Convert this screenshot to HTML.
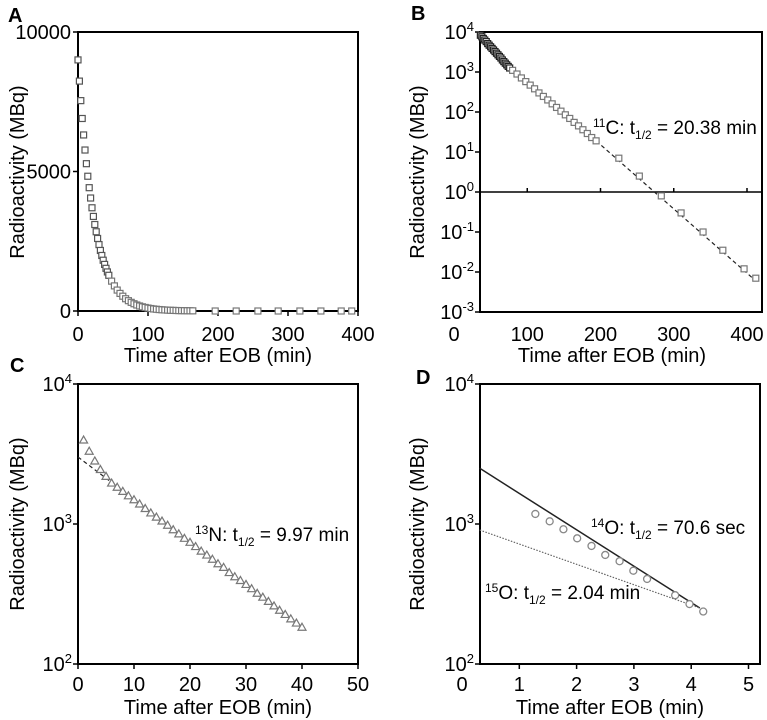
<!DOCTYPE html>
<html><head><meta charset="utf-8"><style>
html,body{margin:0;padding:0;background:#fff;}
svg{display:block;font-family:"Liberation Sans",Arial,sans-serif;}
</style></head><body>
<svg id="fig" width="767" height="720" viewBox="0 0 767 720">
<g>
<text x="8" y="22" font-size="20" font-weight="bold">A</text>
<text transform="translate(24,172) rotate(-90)" text-anchor="middle" font-size="20">Radioactivity (MBq)</text>
<text x="218" y="362" text-anchor="middle" font-size="20">Time after EOB (min)</text>
<g id="ga"></g></g>
<g>
<text x="411" y="20" font-size="20" font-weight="bold">B</text>
<text transform="translate(424,172) rotate(-90)" text-anchor="middle" font-size="20">Radioactivity (MBq)</text>
<text x="612" y="362" text-anchor="middle" font-size="20">Time after EOB (min)</text>
<text x="593" y="134" font-size="19"><tspan font-size="12" dy="-7">11</tspan><tspan dy="7">C: t</tspan><tspan font-size="12" dy="5">1/2</tspan><tspan dy="-5"> = 20.38 min</tspan></text>
<g id="gb"></g></g>
<g>
<text x="10" y="372" font-size="20" font-weight="bold">C</text>
<text transform="translate(24,524) rotate(-90)" text-anchor="middle" font-size="20">Radioactivity (MBq)</text>
<text x="218" y="714" text-anchor="middle" font-size="20">Time after EOB (min)</text>
<text x="195" y="541" font-size="19"><tspan font-size="12" dy="-7">13</tspan><tspan dy="7">N: t</tspan><tspan font-size="12" dy="5">1/2</tspan><tspan dy="-5"> = 9.97 min</tspan></text>
<g id="gc"></g></g>
<g>
<text x="416" y="384" font-size="20" font-weight="bold">D</text>
<text transform="translate(424,524) rotate(-90)" text-anchor="middle" font-size="20">Radioactivity (MBq)</text>
<text x="610" y="714" text-anchor="middle" font-size="20">Time after EOB (min)</text>
<text x="591" y="534" font-size="19"><tspan font-size="12" dy="-7">14</tspan><tspan dy="7">O: t</tspan><tspan font-size="12" dy="5">1/2</tspan><tspan dy="-5"> = 70.6 sec</tspan></text>
<text x="485" y="599" font-size="19"><tspan font-size="12" dy="-7">15</tspan><tspan dy="7">O: t</tspan><tspan font-size="12" dy="5">1/2</tspan><tspan dy="-5"> = 2.04 min</tspan></text>
<g id="gd"></g></g>
</svg>
<script>
// Panel A data
const aTime=[0,2,4,6,8,10,12,14,16,18,20,22,24,26,28,30,32,34,36,38,40,42,44,48,52,56,60,64,68,72,76,80,84,88,92,96,100,104,108,112,116,120,124,128,132,136,140,144,148,152,156,160,164,196,226,257,286,317,347,376,391];
const aValue=[9000,8240,7540,6900,6310,5770,5280,4830,4420,4050,3700,3390,3100,2840,2600,2380,2170,1990,1820,1670,1530,1400,1280,1070,900,750,630,530,440,370,310,260,215,180,150,127,106,89,74,62,52,44,37,31,26,22,18,15,13,11,9,8,6,0,0,0,0,0,0,0,0];
const aXTicks=[0,100,200,300,400];
const aYTicks=[0,5000,10000];
// Panel B data
const bTime=[36,38,40,42,44,46,48,50,52,54,56,58,60,62,64,66,68,70,72,74,76,80,86,92,98,104,110,116,122,128,134,140,146,152,158,164,170,176,182,188,194,225,253,283,310,340,367,396,412];
const bValue=[8300,7600,6900,6300,5750,5130,4680,4270,3890,3550,3240,2950,2690,2450,2240,2000,1820,1660,1510,1380,1260,1100,890,710,575,470,380,300,245,200,160,130,105,85,69,55,45,36,29,23,19,7,2.5,0.8,0.3,0.1,0.035,0.012,0.007];
const bFitTime=[194,412];
const bFitValue=[19,0.006];
const bXTicks=[0,100,200,300,400];
const bYExp=[4,3,2,1,0,-1,-2,-3];
// Panel C data
const cTime=[1,2,3,4,5,6,7,8,9,10,11,12,13,14,15,16,17,18,19,20,21,22,23,24,25,26,27,28,29,30,31,32,33,34,35,36,37,38,39,40];
const cValue=[3980,3310,2820,2450,2190,1960,1830,1710,1590,1490,1390,1290,1200,1120,1050,980,910,850,790,740,690,640,600,560,520,490,450,420,395,370,345,320,300,280,260,242,226,210,196,183];
const cFitTime=[0,6];
const cFitValue=[3010,1980];
const cXTicks=[0,10,20,30,40,50];
const cYExp=[2,3,4];
// Panel D data
const dTime=[1.28,1.53,1.77,2.01,2.26,2.50,2.75,2.99,3.23,3.72,3.97,4.21];
const dValue=[1180,1045,917,790,697,601,542,464,405,310,268,237];
const d14Time=[0.31,4.15];
const d14Value=[2500,251];
const d15Time=[0.31,4.15];
const d15Value=[906,251];
const dXTicks=[0,1,2,3,4,5];
const dYExp=[2,3,4];

const NS='http://www.w3.org/2000/svg';
function mk(parent,tag,attrs){const e=document.createElementNS(NS,tag);for(const k in attrs)e.setAttribute(k,attrs[k]);parent.appendChild(e);return e;}
function frame(g,l,t,r,b){
  const f=mk(g,'rect',{x:l,y:t,width:r-l,height:b-t,fill:'none',stroke:'#000','stroke-width':2});
  
  
}
function xTickLabels(g,ticks,sx,yAxis,yLab,prefix){
  ticks.forEach(v=>{
    const x=sx(v);
    const t=mk(g,'line',{x1:x,x2:x,y1:yAxis,y2:yAxis+5,stroke:'#000','stroke-width':1.5});
    
    
    const l=mk(g,'text',{x:x,y:yLab,'text-anchor':'middle','font-size':20});
    l.textContent=String(v);
    
    
  });
}
function yExpLabels(g,exps,sy,xAxis,prefix){
  exps.forEach(e=>{
    const y=sy(Math.pow(10,e));
    const t=mk(g,'line',{x1:xAxis-5,x2:xAxis,y1:y,y2:y,stroke:'#000','stroke-width':1.5});
    
    
    const l=mk(g,'text',{x:xAxis-6,y:y+7,'text-anchor':'end','font-size':20});
    l.innerHTML='10<tspan font-size="13" dy="-8">'+e+'</tspan>';
    
    
  });
}
function square(g,x,y,stroke,name){
  const s=mk(g,'rect',{x:x-3,y:y-3,width:6,height:6,fill:'#fff',stroke:stroke,'stroke-width':1.2});
  
  
}
// Panel A
(function(){
  const g=document.getElementById('ga');
  const sx=v=>78+v*0.70, sy=v=>311-v*0.0279;
  frame(g,78,32,358,311);
  xTickLabels(g,aXTicks,sx,311,341,'panel-a');
  aYTicks.forEach(v=>{
    const y=sy(v);
    const t=mk(g,'line',{x1:73,x2:78,y1:y,y2:y,stroke:'#000','stroke-width':1.5});
    
    
    const l=mk(g,'text',{x:71,y:y+7,'text-anchor':'end','font-size':20});
    l.textContent=String(v);
    
    
  });
  aTime.forEach((t,i)=>square(g,sx(t),sy(aValue[i]),t<45?'#555':'#777','panel-a-point'));
})();
// Panel B
(function(){
  const g=document.getElementById('gb');
  const sx=v=>454+v*0.7325, sy=v=>32+(4-Math.log10(v))*40;
  frame(g,480,32,762,312);
  const h=mk(g,'line',{x1:480,x2:762,y1:sy(1),y2:sy(1),stroke:'#000','stroke-width':1.5});
  
  
  bXTicks.forEach(v=>{if(v>0){const x=sx(v);const t=mk(g,'line',{x1:x,x2:x,y1:sy(1)-4,y2:sy(1),stroke:'#000','stroke-width':1.5});
    
    }});
  bXTicks.forEach(v=>{const x=sx(v);const l=mk(g,'text',{x:x,y:341,'text-anchor':'middle','font-size':20});l.textContent=String(v);
    
    });
  yExpLabels(g,bYExp,sy,480,'panel-b');
  const fl=mk(g,'line',{x1:sx(bFitTime[0]),y1:sy(bFitValue[0]),x2:sx(bFitTime[1]),y2:sy(bFitValue[1]),stroke:'#222','stroke-width':1.2,'stroke-dasharray':'4,3'});
  
  
  bTime.forEach((t,i)=>square(g,sx(t),sy(bValue[i]),t<=76?'#222':'#777','panel-b-point'));
})();
// Panel C
(function(){
  const g=document.getElementById('gc');
  const sx=v=>78+v*5.6, sy=v=>384+(4-Math.log10(v))*140;
  frame(g,78,384,358,664);
  xTickLabels(g,cXTicks,sx,664,691,'panel-c');
  yExpLabels(g,cYExp,sy,78,'panel-c');
  const fl=mk(g,'line',{x1:sx(cFitTime[0]),y1:sy(cFitValue[0]),x2:sx(cFitTime[1]),y2:sy(cFitValue[1]),stroke:'#222','stroke-width':1.2,'stroke-dasharray':'4,3'});
  
  
  cTime.forEach((t,i)=>{const x=sx(t),y=sy(cValue[i]);
    const p=mk(g,'polygon',{points:`${x},${y-4} ${x+4},${y+3} ${x-4},${y+3}`,fill:'#fff',stroke:'#777','stroke-width':1.2});
    
    });
})();
// Panel D
(function(){
  const g=document.getElementById('gd');
  const sx=v=>462+v*57.3, sy=v=>384+(4-Math.log10(v))*140;
  frame(g,480,384,760,664);
  dXTicks.forEach(v=>{const x=sx(v);
    if(v>0){const t=mk(g,'line',{x1:x,x2:x,y1:664,y2:669,stroke:'#000','stroke-width':1.5});
    
    }
    const l=mk(g,'text',{x:x,y:691,'text-anchor':'middle','font-size':20});l.textContent=String(v);
    
    });
  yExpLabels(g,dYExp,sy,480,'panel-d');
  const l14=mk(g,'line',{x1:sx(d14Time[0]),y1:sy(d14Value[0]),x2:sx(d14Time[1]),y2:sy(d14Value[1]),stroke:'#222','stroke-width':1.5});
  
  
  const l15=mk(g,'line',{x1:sx(d15Time[0]),y1:sy(d15Value[0]),x2:sx(d15Time[1]),y2:sy(d15Value[1]),stroke:'#666','stroke-width':1.2,'stroke-dasharray':'1.5,1.5'});
  
  
  dTime.forEach((t,i)=>{const c=mk(g,'circle',{cx:sx(t),cy:sy(dValue[i]),r:3.5,fill:'#fff',stroke:'#888','stroke-width':1.3});
    
    });
})();
</script>
</body></html>
